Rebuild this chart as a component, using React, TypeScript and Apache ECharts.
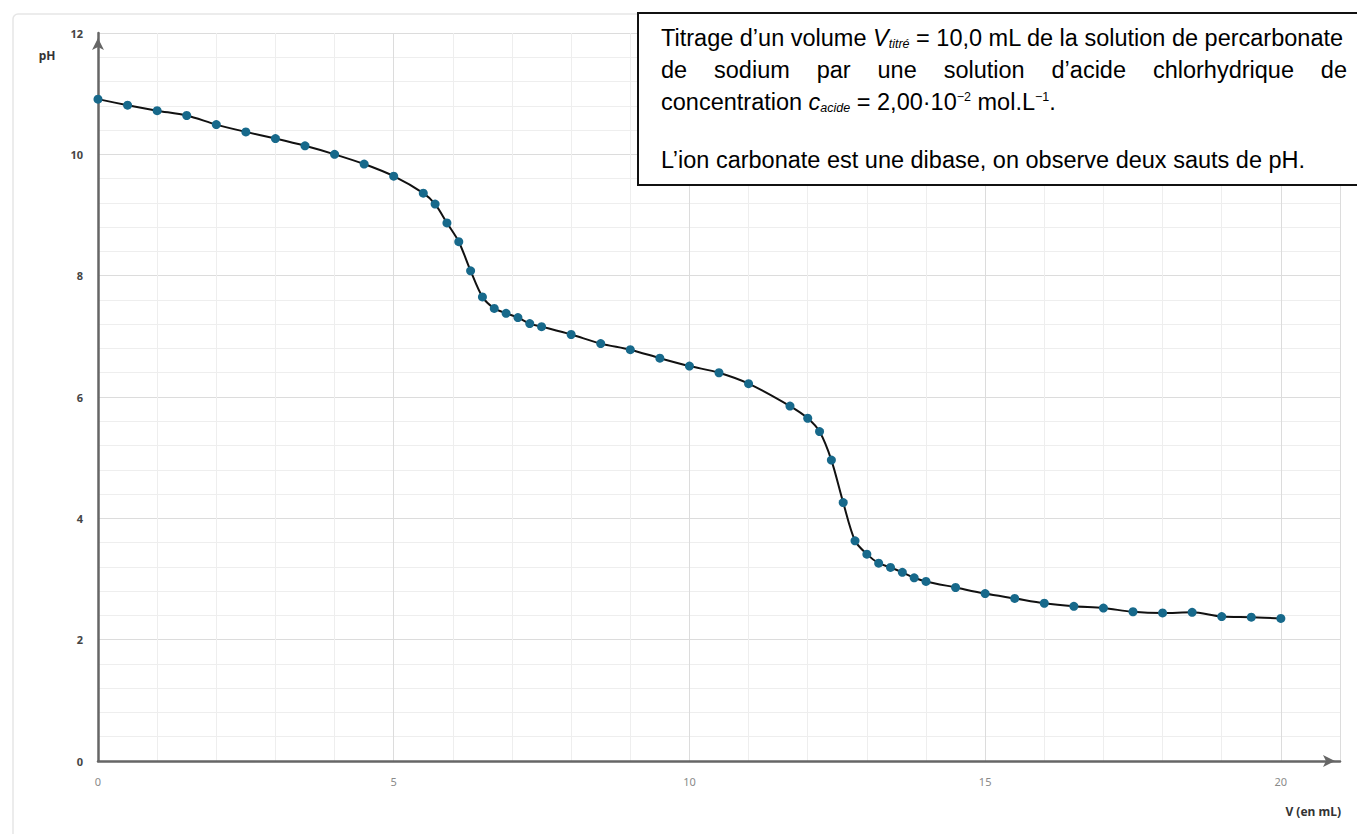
import React, { useEffect, useRef } from "react";
import * as echarts from "echarts";

// ---- Data ----
const volumes = [
  0, 0.5, 1, 1.5, 2, 2.5, 3, 3.5, 4, 4.5, 5,
  5.5,
  5.7, 5.9, 6.1, 6.3, 6.5, 6.7, 6.9, 7.1, 7.3, 7.5,
  8, 8.5, 9, 9.5, 10, 10.5, 11,
  11.7,
  12, 12.2, 12.4, 12.6, 12.8, 13, 13.2, 13.4, 13.6, 13.8, 14,
  14.5, 15, 15.5, 16, 16.5, 17, 17.5, 18, 18.5, 19, 19.5, 20,
];
const phValues = [
  10.91, 10.81, 10.72, 10.64, 10.49, 10.37, 10.26, 10.14, 10.0, 9.84, 9.64,
  9.36,
  9.18, 8.87, 8.56, 8.08, 7.65, 7.46, 7.38, 7.31, 7.21, 7.16,
  7.03, 6.88, 6.78, 6.64, 6.51, 6.4, 6.22,
  5.85,
  5.65, 5.43, 4.96, 4.26, 3.63, 3.41, 3.26, 3.19, 3.11, 3.02, 2.96,
  2.86, 2.76, 2.68, 2.6, 2.55, 2.52, 2.46, 2.44, 2.45, 2.38, 2.37, 2.35,
];
const xTickLabels = ["0", "5", "10", "15", "20"];
const yTickLabels = ["0", "2", "4", "6", "8", "10", "12"];
const xAxisName = "V (en mL)";
const yAxisName = "pH";

const line1 = "{n|Titrage d’un volume }{i|V}{sub|titré}{n| = 10,0 mL de la solution de percarbonate}";
const line2Words = ["de", "sodium", "par", "une", "solution", "d’acide", "chlorhydrique", "de"];
const line3 = "{n|concentration }{i|c}{sub|acide}{n| = 2,00·10}{sup|−2}{n| mol.L}{sup|−1}{n|.}";
const line5 = "L’ion carbonate est une dibase, on observe deux sauts de pH.";

const FONT_FAMILY = "Liberation Sans";
const FS = 23.5;
const FS_SMALL = 12.5;

function measure(word: string, font: string): number {
  const ctx = document.createElement("canvas").getContext("2d");
  if (!ctx) return word.length * FS * 0.5;
  ctx.font = font;
  return ctx.measureText(word).width;
}

export default function App() {
  const ref = useRef<HTMLDivElement>(null);

  useEffect(() => {
    if (!ref.current) return;
    const chart = echarts.init(ref.current, undefined, { renderer: "svg" });

    const textLeft = 661;
    const textRight = 1347;
    const font = `${FS}px "${FONT_FAMILY}"`;
    const widths = line2Words.map((w) => measure(w, font));
    const total = widths.reduce((a, b) => a + b, 0);
    const gap = (textRight - textLeft - total) / (line2Words.length - 1);
    let cx = textLeft;
    const line2Els = line2Words.map((w, i) => {
      const el = {
        type: "text",
        x: cx,
        y: 70,
        z: 101,
        style: {
          text: w,
          fontSize: FS,
          fontFamily: FONT_FAMILY,
          fill: "#000",
          align: "left",
          verticalAlign: "middle",
        },
      };
      cx += widths[i] + gap;
      return el;
    });

    const rich = {
      n: { fontSize: FS, fontFamily: FONT_FAMILY, color: "#000" },
      i: { fontSize: FS, fontFamily: FONT_FAMILY, fontStyle: "italic", color: "#000" },
      sub: { fontSize: FS_SMALL, fontFamily: FONT_FAMILY, fontStyle: "italic", color: "#000", verticalAlign: "bottom" },
      sup: { fontSize: FS_SMALL, fontFamily: FONT_FAMILY, color: "#000", verticalAlign: "top" },
    };

    const option: any = {
      animation: false,
      backgroundColor: "#fff",
      grid: { left: 98, right: 17, top: 33, bottom: 73, containLabel: false, outerBoundsMode: "none" },
      xAxis: [
        {
          type: "value",
          position: "bottom",
          min: 0,
          max: 21,
          interval: 1,
          axisLine: { show: false },
          axisTick: { show: false },
          axisLabel: { show: false },
          splitLine: { show: true, lineStyle: { color: "#eeeeee", width: 1 } },
        },
        {
          type: "value",
          position: "bottom",
          min: 0,
          max: 21,
          interval: 5,
          axisLine: {
            show: true,
            onZero: false,
            symbol: ["none", "arrow"],
            symbolSize: [9, 12],
            symbolOffset: [0, -5],
            lineStyle: { color: "#666", width: 2.5 },
          },
          axisTick: { show: false },
          axisLabel: {
            margin: 15,
            color: "#8a8a8a",
            fontSize: 11,
            fontFamily: "Noto Sans",
            formatter: (v: number) => {
              const s = String(v);
              return xTickLabels.includes(s) ? s : "";
            },
          },
          splitLine: { show: true, lineStyle: { color: "#dcdcdc", width: 1 } },
        },
      ],
      yAxis: [
        {
          type: "value",
          position: "left",
          min: 0,
          max: 12,
          interval: 0.4,
          axisLine: { show: false },
          axisTick: { show: false },
          axisLabel: { show: false },
          splitLine: { show: true, lineStyle: { color: "#eeeeee", width: 1 } },
        },
        {
          type: "value",
          position: "left",
          min: 0,
          max: 12,
          interval: 2,
          axisLine: {
            show: true,
            onZero: false,
            symbol: ["none", "arrow"],
            symbolSize: [9, 12],
            symbolOffset: [0, -5],
            lineStyle: { color: "#666", width: 2.5 },
          },
          axisTick: { show: false },
          axisLabel: {
            margin: 15,
            color: "#444",
            fontSize: 11,
            fontWeight: "bold",
            fontFamily: "Noto Sans",
            formatter: (v: number) => {
              const s = String(Math.round(v));
              return yTickLabels.includes(s) ? s : "";
            },
          },
          splitLine: { show: true, lineStyle: { color: "#dcdcdc", width: 1 } },
        },
      ],
      series: [
        {
          type: "line",
          xAxisIndex: 1,
          yAxisIndex: 1,
          data: volumes.map((v, i) => [v, phValues[i]]),
          smooth: 0.3,
          symbol: "circle",
          symbolSize: 9,
          showSymbol: true,
          lineStyle: { color: "#111", width: 2 },
          itemStyle: { color: "#17698b" },
          z: 5,
        },
      ],
      graphic: [
        {
          type: "rect",
          z: -1,
          shape: { x: 13, y: 14, width: 1420, height: 900, r: 5 },
          style: { fill: "none", stroke: "#e6e6e6", lineWidth: 1.5 },
        },
        {
          type: "text",
          x: 47,
          y: 55,
          style: {
            text: yAxisName,
            fontSize: 12,
            fontWeight: "bold",
            fontFamily: "Noto Sans",
            fill: "#333",
            align: "center",
            verticalAlign: "middle",
          },
        },
        {
          type: "text",
          x: 1341,
          y: 811,
          style: {
            text: xAxisName,
            fontSize: 12,
            fontWeight: "bold",
            fontFamily: "Noto Sans",
            fill: "#333",
            align: "right",
            verticalAlign: "middle",
          },
        },
        {
          type: "rect",
          z: 100,
          shape: { x: 638, y: 13, width: 760, height: 172 },
          style: { fill: "#fff", stroke: "#111", lineWidth: 2 },
        },
        {
          type: "text",
          x: textLeft,
          y: 38,
          z: 101,
          style: { text: line1, rich, fontSize: FS, fontFamily: FONT_FAMILY, fill: "#000", align: "left", verticalAlign: "middle" },
        },
        ...line2Els,
        {
          type: "text",
          x: textLeft,
          y: 102,
          z: 101,
          style: { text: line3, rich, fontSize: FS, fontFamily: FONT_FAMILY, fill: "#000", align: "left", verticalAlign: "middle" },
        },
        {
          type: "text",
          x: textLeft,
          y: 160,
          z: 101,
          style: { text: line5, fontSize: FS, fontFamily: FONT_FAMILY, fill: "#000", align: "left", verticalAlign: "middle" },
        },
      ],
    };

    chart.setOption(option);
    return () => chart.dispose();
  }, []);

  return (
    <div
      ref={ref}
      style={{ position: "absolute", left: 0, top: 0, width: 1357, height: 834, background: "#fff" }}
    />
  );
}
